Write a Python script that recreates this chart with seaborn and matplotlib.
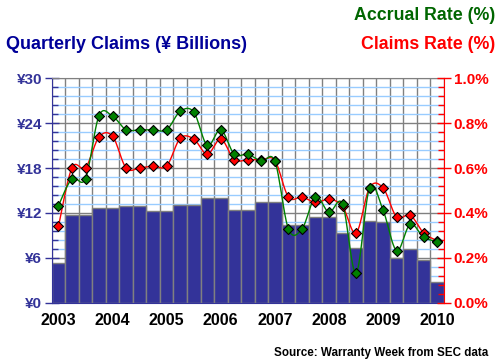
import matplotlib
matplotlib.use("Agg")
import matplotlib.pyplot as plt
from matplotlib.ticker import MultipleLocator, FixedLocator, FuncFormatter
import numpy as np
import seaborn as sns

# quarterly data, 2003 Q1 .. 2010 Q1
quarters = [f"{y}Q{q}" for y in range(2003, 2011) for q in range(1, 5)][:29]
claims = [5.33, 11.73, 11.73, 12.67, 12.67, 12.93, 12.93, 12.27, 12.27, 13.07,
          13.07, 13.96, 13.96, 12.4, 12.4, 13.47, 13.47, 10.4, 10.4, 11.47,
          11.47, 9.38, 7.33, 10.93, 10.76, 6.0, 7.2, 5.78, 2.8]
accrual_rate = [0.433, 0.553, 0.553, 0.833, 0.830, 0.770, 0.770, 0.770, 0.770, 0.852,
                0.849, 0.701, 0.770, 0.661, 0.661, 0.630, 0.630, 0.329, 0.329, 0.471,
                0.403, 0.440, 0.133, 0.513, 0.412, 0.233, 0.350, 0.292, 0.273]
claims_rate = [0.341, 0.601, 0.601, 0.738, 0.741, 0.600, 0.600, 0.609, 0.609, 0.732,
               0.729, 0.661, 0.729, 0.637, 0.637, 0.637, 0.633, 0.471, 0.471, 0.447,
               0.461, 0.430, 0.311, 0.513, 0.511, 0.382, 0.391, 0.311, 0.277]
years = ["2003", "2004", "2005", "2006", "2007", "2008", "2009", "2010"]

BLUE = "#333399"
RED = "#FF0000"
GREEN = "#008000"

sns.set_style("white")
plt.rcParams["font.family"] = ["Liberation Sans", "DejaVu Sans"]
plt.rcParams["font.weight"] = "bold"


def smooth(vals, n=12):
    # catmull-rom style smoothing like the excel "smoothed line"
    p = np.asarray(vals, dtype=float)
    x = np.arange(len(p), dtype=float)
    pp = np.concatenate([[p[0]], p, [p[-1]]])
    xx = np.concatenate([[x[0]], x, [x[-1]]])
    xs, ys = [], []
    t = np.linspace(0, 1, n, endpoint=False)
    for i in range(1, len(pp) - 2):
        for arr, out in ((xx, xs), (pp, ys)):
            a, b, c, d = arr[i - 1], arr[i], arr[i + 1], arr[i + 2]
            out.extend(0.5 * (2 * b + (-a + c) * t + (2 * a - 5 * b + 4 * c - d) * t ** 2
                              + (-a + 3 * b - 3 * c + d) * t ** 3))
    xs.append(x[-1])
    ys.append(p[-1])
    return np.array(xs), np.array(ys)


fig = plt.figure(figsize=(5.0, 3.64), dpi=100)
ax = fig.add_axes([0.1034, 0.1676, 0.7846, 0.6181])

sns.barplot(x=quarters, y=claims, ax=ax, color=BLUE, saturation=1, width=1,
            edgecolor="#808080", linewidth=1, zorder=2)
ax.set_xlim(-0.5, len(quarters) - 0.5)
ax.set_ylim(0, 30)
ax.set_xlabel("")
ax.set_ylabel("")

# grid
ax.set_axisbelow(True)
ax.yaxis.set_major_locator(MultipleLocator(6))
ax.yaxis.set_minor_locator(MultipleLocator(1.2))
ax.yaxis.set_major_formatter(FuncFormatter(lambda v, p: f"¥{v:.0f}"))
ax.grid(which="minor", axis="y", color="#99CCFF", linewidth=1, zorder=0)
ax.grid(which="major", axis="y", color="#808080", linewidth=1, zorder=0)
ax.xaxis.set_major_locator(FixedLocator(list(range(0, 29, 4))))
ax.set_xticklabels(years)
ax.xaxis.set_minor_locator(FixedLocator([i - 0.5 for i in range(30)]))
ax.grid(which="minor", axis="x", color="#808080", linewidth=1, zorder=0)
ax.tick_params(axis="x", which="major", length=0, pad=7, labelsize=11.5, labelcolor="black")
ax.tick_params(axis="x", which="minor", length=5, width=1, color="black", direction="out")
ax.tick_params(axis="y", which="major", direction="inout", length=10, width=1,
               color=BLUE, labelcolor=BLUE, labelsize=11, pad=2)
ax.tick_params(axis="y", which="minor", direction="in", length=4, width=1, color=BLUE)
for lab in ax.get_xticklabels() + ax.get_yticklabels():
    lab.set_fontweight("bold")
ax.spines["left"].set_color(BLUE)
ax.spines["top"].set_color("#808080")
ax.spines["right"].set_visible(False)
ax.spines["bottom"].set_color(BLUE)

ax2 = ax.twinx()
idx = np.arange(len(quarters))
for vals, col in ((claims_rate, RED), (accrual_rate, GREEN)):
    sx, sy = smooth(vals)
    sns.lineplot(x=sx, y=sy, ax=ax2, color=col, linewidth=1, sort=False, zorder=3)
    sns.scatterplot(x=idx, y=vals, ax=ax2, marker="D", s=26, color=col,
                    edgecolor="black", linewidth=0.8, zorder=4)
ax2.set_ylim(0, 1.0)
ax2.set_xlim(-0.5, len(quarters) - 0.5)
ax2.yaxis.set_major_locator(MultipleLocator(0.2))
ax2.yaxis.set_minor_locator(MultipleLocator(0.04))
ax2.yaxis.set_major_formatter(FuncFormatter(lambda v, p: f"{v:.1f}%"))
ax2.tick_params(axis="y", which="major", direction="inout", length=10, width=1,
                color=RED, labelcolor=RED, labelsize=11, pad=2)
ax2.tick_params(axis="y", which="minor", direction="in", length=4, width=1, color=RED)
for lab in ax2.get_yticklabels():
    lab.set_fontweight("bold")
ax2.spines["right"].set_color(RED)
ax2.spines["left"].set_visible(False)
ax2.spines["top"].set_visible(False)
ax2.spines["bottom"].set_visible(False)
ax2.set_ylabel("")

fig.text(0.012, 0.879, "Quarterly Claims (¥ Billions)", color="#000099",
         fontsize=13, fontweight="bold", ha="left", va="center")
fig.text(0.99, 0.958, "Accrual Rate (%)", color="#006600",
         fontsize=12.8, fontweight="bold", ha="right", va="center")
fig.text(0.99, 0.879, "Claims Rate (%)", color=RED,
         fontsize=12.8, fontweight="bold", ha="right", va="center")
fig.text(0.976, 0.030, "Source: Warranty Week from SEC data", color="black",
         fontsize=8.4, fontweight="bold", ha="right", va="center")

fig.savefig("out.png", dpi=100, facecolor="white")
